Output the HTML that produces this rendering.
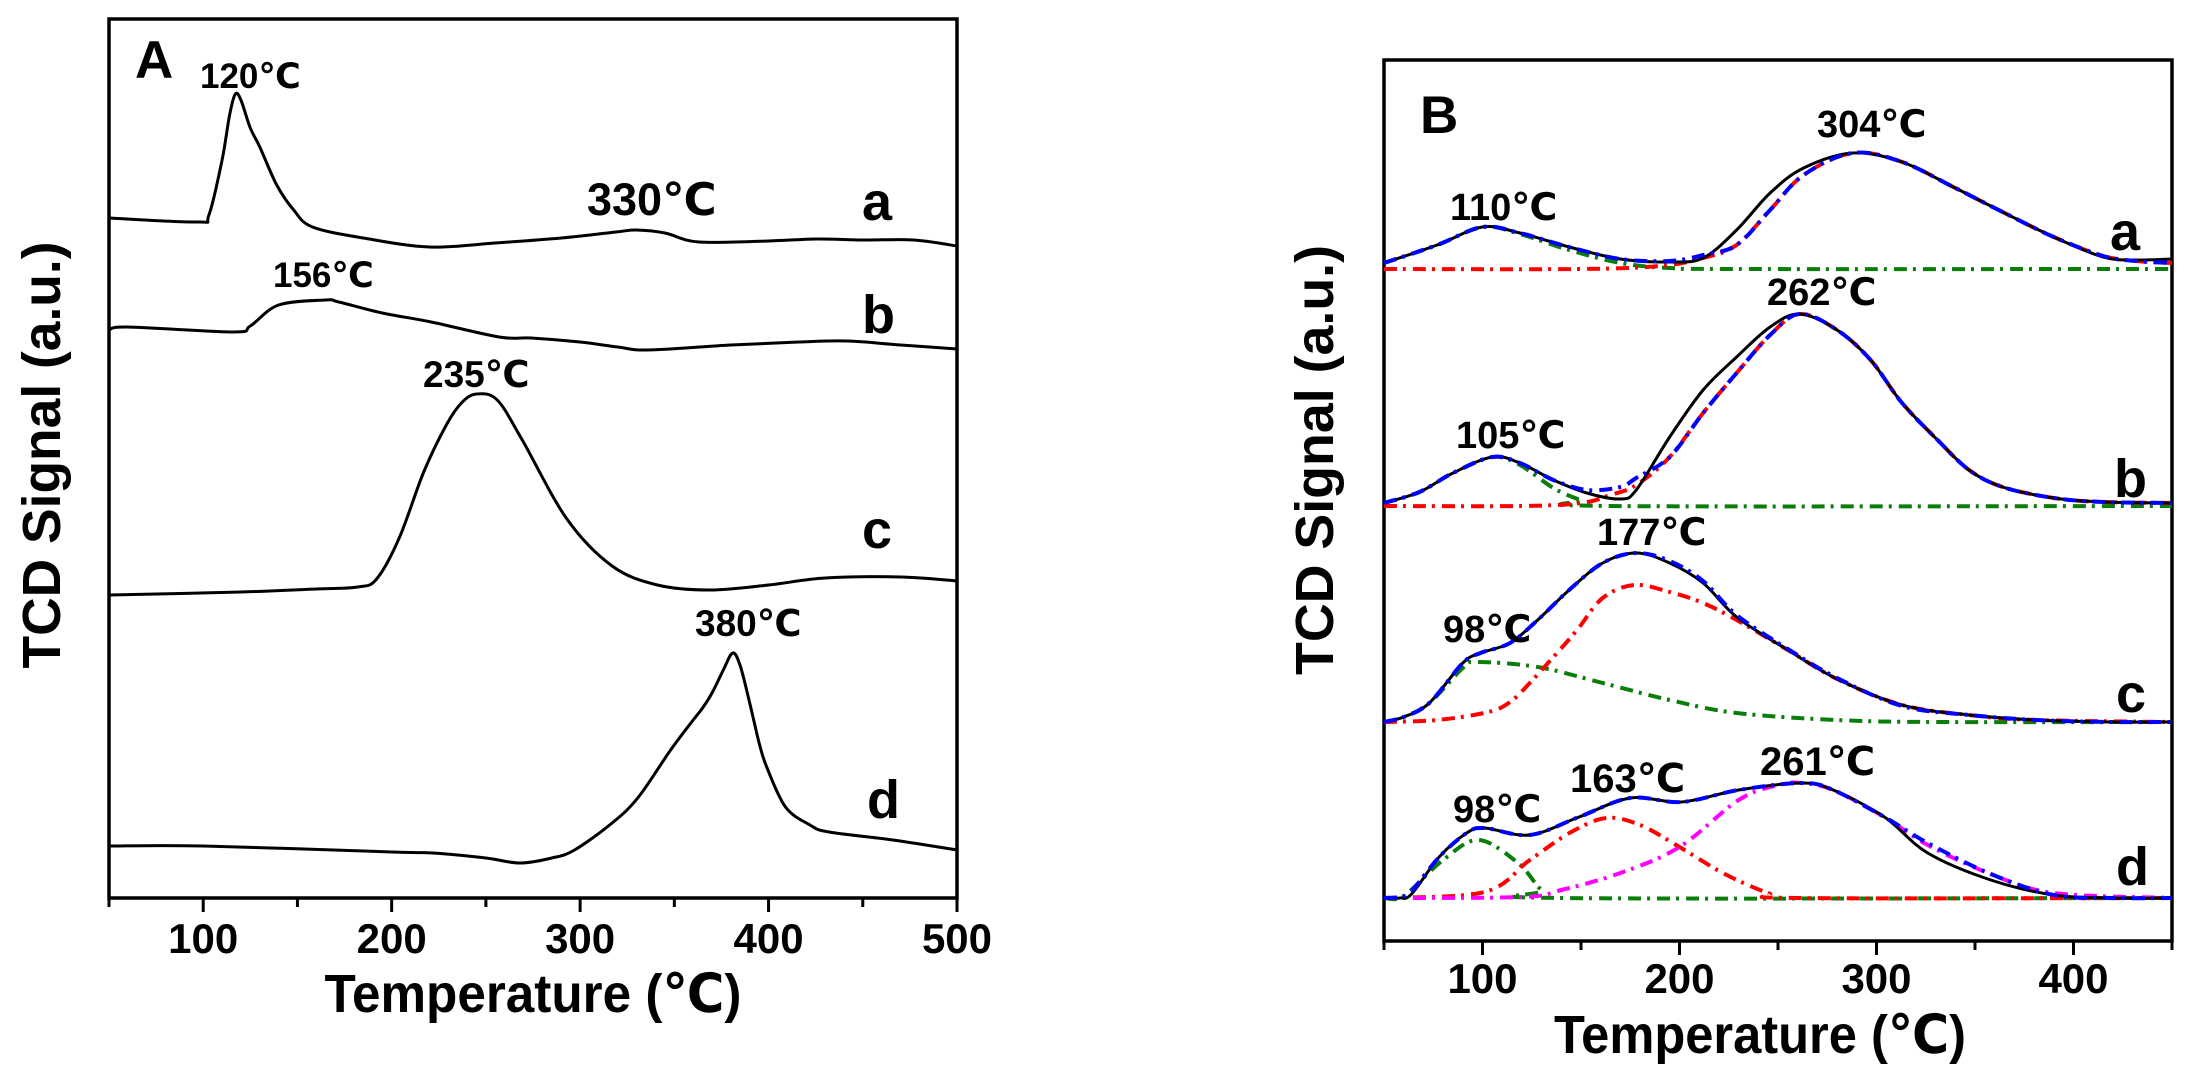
<!DOCTYPE html>
<html><head><meta charset="utf-8">
<style>
html,body{margin:0;padding:0;background:#fff;}
svg{display:block;}
text{font-family:"Liberation Sans","DejaVu Sans",sans-serif;font-weight:bold;fill:#000;}
</style></head>
<body>
<svg id="chart" xmlns="http://www.w3.org/2000/svg" width="2192" height="1080" viewBox="0 0 2192 1080">
  <g id="panelA">
    <rect x="109" y="19" width="848" height="879" fill="none" stroke="#000" stroke-width="3.5"/>
    <text x="135" y="78" font-size="53">A</text>
    <text transform="translate(60,455) rotate(-90)" text-anchor="middle" font-size="54" textLength="427" lengthAdjust="spacingAndGlyphs">TCD Signal (a.u.)</text>
    <text x="533" y="1012" text-anchor="middle" font-size="54" textLength="417" lengthAdjust="spacingAndGlyphs">Temperature (℃)</text>
    <text x="200" y="88" font-size="35">120℃</text>
    <text x="587" y="215" font-size="45">330℃</text>
    <text x="273" y="287" font-size="35">156℃</text>
    <text x="423" y="387" font-size="37">235℃</text>
    <text x="695" y="636" font-size="37">380℃</text>
    <text x="862" y="220" font-size="54">a</text>
    <text x="862" y="333" font-size="54">b</text>
    <text x="862" y="548" font-size="54">c</text>
    <text x="867" y="818" font-size="54">d</text>
  </g>
  <g id="panelB">
    <rect x="1384" y="60" width="788" height="881" fill="none" stroke="#000" stroke-width="3.5"/>
    <text x="1420" y="133" font-size="53">B</text>
    <text transform="translate(1333,460) rotate(-90)" text-anchor="middle" font-size="54" textLength="430" lengthAdjust="spacingAndGlyphs">TCD Signal (a.u.)</text>
    <text x="1760" y="1053" text-anchor="middle" font-size="54" textLength="412" lengthAdjust="spacingAndGlyphs">Temperature (℃)</text>
    <text x="1450" y="220" font-size="38">110℃</text>
    <text x="1817" y="137" font-size="38">304℃</text>
    <text x="1767" y="305" font-size="38">262℃</text>
    <text x="1456" y="448" font-size="38">105℃</text>
    <text x="1597" y="545" font-size="38">177℃</text>
    <text x="1443" y="642" font-size="38">98℃</text>
    <text x="1453" y="822" font-size="38">98℃</text>
    <text x="1570" y="792" font-size="40">163℃</text>
    <text x="1760" y="775" font-size="40">261℃</text>
    <text x="2110" y="250" font-size="54">a</text>
    <text x="2114" y="497" font-size="54">b</text>
    <text x="2116" y="712" font-size="54">c</text>
    <text x="2116" y="885" font-size="54">d</text>
  </g>
</svg>
<script>
// ---------- Panel A data (temperature ℃, signal a.u. = px above axis baseline) ----------
const ticksA = [50,100,150,200,250,300,350,400,450,500];
const tickLabelsA = ["100","200","300","400","500"];
const tickLabelValsA = [100,200,300,400,500];
const aT = [50,97,103,110,114,117,120,125,130,139,148,158,185,220,255,290,319,330,345,363,400,425,450,477,500];
const aV = [680,676,683,738,783,804,798,770,751,713,688,671,660,651,655,660,666,668,665,656,657,659,658,658,652];
const bT = [50,60,116,125,140,165,172,195,221,257,274,300,320,336,380,416,442,470,500];
const bV = [568,571,566,572,593,598,596,585,576,561,560,556,551,548,553,556,557,553,549];
const cT = [50,120,160,182,192,204,217,229,237,245,256,269,293,317,341,369,400,430,470,500];
const cV = [303,306,309,311,319,360,426,473,495,504,498,459,379,332,313,308,313,320,321,317];
const dT = [50,100,200,222,250,268,285,297,317,331,348,360,365,370,376,381,385,390,395,399,409,422,432,466,500];
const dV = [52,52,46,45,40,35,40,48,75,101,148,178,190,205,228,245,232,195,155,131,91,73,66,58,48];

// ---------- Panel B data ----------
const ticksB = [50,100,150,200,250,300,350,400,450];
const tickLabelsB = ["100","200","300","400"];
const tickLabelValsB = [100,200,300,400];
const baT = [50,77,100,119,144,170,195,212,229,246,263,288,313,339,364,390,415,432,450];
const baBlack = [678,696,714,708,694,682,679,683,711,748,773,788,779,754,729,704,684,681,682];
const baFit   = [678,696,714,708,694,682,680,686,696,731,766,788,779,754,729,704,685,680,678];
const baG1T = [50,77,100,119,144,170,195,230,450];
const baG1V = [678,696,714,707,691,678,673,672,672];
const baG2T = [50,150,190,212,229,246,263,288,313,339,364,390,415,432,450];
const baG2V = [672,672,675,683,696,731,766,788,779,754,729,704,685,680,678];

const bbT = [50,68,85,105,119,136,153,170,178,195,212,229,246,261,280,297,313,331,347,364,390,415,450];
const bbBlack = [438,449,468,484,478,461,448,442,451,504,551,584,614,627,611,581,538,501,471,454,443,439,438];
const bbFit   = [438,449,468,484,478,461,451,454,463,484,528,568,606,627,611,581,538,501,471,454,443,439,438];
const bbG1T = [50,68,85,105,119,136,150,165,450];
const bbG1V = [438,449,468,484,476,453,441,435,435];
const bbG2T = [50,120,150,165,178,195,212,229,246,261,280,297,313,331,347,364,390,415,450];
const bbG2V = [435,435,438,446,456,484,528,568,606,627,611,581,538,501,471,454,443,439,438];

const bcT = [50,60,73,90,99,114,128,144,161,178,195,212,229,255,280,313,347,381,420,450];
const bcBlack = [219,224,238,278,288,298,321,351,378,388,378,358,324,291,262,236,226,221,219,219];
const bcFit   = [219,224,238,278,288,298,321,351,378,388,380,360,326,292,263,235,226,221,219,219];
const bcG1T = [50,60,73,90,97,128,161,195,229,280,330,450];
const bcG1V = [219,224,238,273,279,274,258,241,228,221,219,219];
const bcG2T = [50,77,103,114,124,136,148,161,177,195,212,229,255,280,313,347,381,450];
const bcG2V = [219,221,229,239,258,284,311,343,356,349,338,321,291,262,236,226,221,219];

const bdT = [50,58,64,78,92,101,124,149,175,201,230,262,278,304,326,358,390,420,450];
const bdBlack = [43,43,47,84,108,113,106,124,143,139,151,158,151,124,88,61,46,43,43];
const bdFit   = [43,44,50,84,108,113,106,124,143,139,151,158,151,124,98,67,46,43,43];
const bdG1T = [50,60,80,98,118,130,140,450];
const bdG1V = [43,45,81,101,78,51,43,43];
const bdG2T = [50,101,124,145,163,180,200,222,245,260,450];
const bdG2V = [43,49,81,109,123,116,94,68,48,43,43];
const bdG3T = [50,120,140,170,200,230,250,262,278,304,326,358,390,450];
const bdG3V = [43,44,51,68,94,141,156,158,151,124,96,67,48,43];

// ---------- axis functions ----------
const NS = "http://www.w3.org/2000/svg";
const gA = document.getElementById('panelA');
const gB = document.getElementById('panelB');
const A = {x0:109, x1:957, t0:50, t1:500, yBase:898};
const B = {x0:1384, x1:2172, t0:50, t1:450, yBase:941};
function xA(t){return A.x0 + (t-A.t0)*(A.x1-A.x0)/(A.t1-A.t0);}
function yA(v){return A.yBase - v;}
function xB(t){return B.x0 + (t-B.t0)*(B.x1-B.x0)/(B.t1-B.t0);}
function yB(v){return B.yBase - v;}

function smoothPath(pts){
  let d = "M" + pts[0][0].toFixed(1) + "," + pts[0][1].toFixed(1);
  for(let i=0;i<pts.length-1;i++){
    const p0 = pts[Math.max(0,i-1)], p1 = pts[i], p2 = pts[i+1], p3 = pts[Math.min(pts.length-1,i+2)];
    const c1x = p1[0] + (p2[0]-p0[0])/6, c1y = p1[1] + (p2[1]-p0[1])/6;
    const c2x = p2[0] - (p3[0]-p1[0])/6, c2y = p2[1] - (p3[1]-p1[1])/6;
    d += " C" + c1x.toFixed(1)+","+c1y.toFixed(1)+" "+c2x.toFixed(1)+","+c2y.toFixed(1)+" "+p2[0].toFixed(1)+","+p2[1].toFixed(1);
  }
  return d;
}
function drawCurve(g, xs, ys, xf, yf, color, width, dash, name){
  const pts = xs.map((t,i)=>[xf(t), yf(ys[i])]);
  const p = document.createElementNS(NS,'path');
  p.setAttribute('d', smoothPath(pts));
  p.setAttribute('fill','none');
  p.setAttribute('stroke',color);
  p.setAttribute('stroke-width',width);
  p.setAttribute('stroke-linejoin','round');
  if(dash) p.setAttribute('stroke-dasharray',dash);
  
  
  g.appendChild(p);
}
function drawTicks(g, ticks, labels, labelVals, xf, yAxis, labelY, prefix){
  ticks.forEach(t=>{
    const major = labelVals.indexOf(t) >= 0 || (t===500);
    const l = document.createElementNS(NS,'line');
    l.setAttribute('x1', xf(t)); l.setAttribute('x2', xf(t));
    l.setAttribute('y1', yAxis); l.setAttribute('y2', yAxis + (major?14:9));
    l.setAttribute('stroke','#000'); l.setAttribute('stroke-width','3');
    
    
    g.appendChild(l);
  });
  labels.forEach((s,i)=>{
    const tx = document.createElementNS(NS,'text');
    tx.setAttribute('x', xf(labelVals[i]));
    tx.setAttribute('y', labelY);
    tx.setAttribute('text-anchor','middle');
    tx.setAttribute('font-size','42');
    tx.textContent = s;
    
    
    g.appendChild(tx);
  });
}

const DASH = "13 6 3 7";
// Panel A
drawTicks(gA, ticksA, tickLabelsA, tickLabelValsA, xA, A.yBase, 953, 'x-axis-a');
drawCurve(gA, aT, aV, xA, yA, '#000', 3, null, 'curve-a');
drawCurve(gA, bT, bV, xA, yA, '#000', 3, null, 'curve-b');
drawCurve(gA, cT, cV, xA, yA, '#000', 3, null, 'curve-c');
drawCurve(gA, dT, dV, xA, yA, '#000', 3, null, 'curve-d');

// Panel B
drawTicks(gB, ticksB, tickLabelsB, tickLabelValsB, xB, B.yBase, 993, 'x-axis-b');
const GREEN='#0a7d0a', RED='#ff0000', BLUE='#0000ff', MAG='#ff00ff';
drawCurve(gB, baG1T, baG1V, xB, yB, GREEN, 4, DASH, 'ba-component-1');
drawCurve(gB, baG2T, baG2V, xB, yB, RED, 4, DASH, 'ba-component-2');
drawCurve(gB, baT, baBlack, xB, yB, '#000', 3, null, 'ba-measured');
drawCurve(gB, baT, baFit, xB, yB, BLUE, 4, DASH, 'ba-fit');

drawCurve(gB, bbG1T, bbG1V, xB, yB, GREEN, 4, DASH, 'bb-component-1');
drawCurve(gB, bbG2T, bbG2V, xB, yB, RED, 4, DASH, 'bb-component-2');
drawCurve(gB, bbT, bbBlack, xB, yB, '#000', 3, null, 'bb-measured');
drawCurve(gB, bbT, bbFit, xB, yB, BLUE, 4, DASH, 'bb-fit');

drawCurve(gB, bcG1T, bcG1V, xB, yB, GREEN, 4, DASH, 'bc-component-1');
drawCurve(gB, bcG2T, bcG2V, xB, yB, RED, 4, DASH, 'bc-component-2');
drawCurve(gB, bcT, bcBlack, xB, yB, '#000', 3, null, 'bc-measured');
drawCurve(gB, bcT, bcFit, xB, yB, BLUE, 4, DASH, 'bc-fit');

drawCurve(gB, bdG1T, bdG1V, xB, yB, GREEN, 4, DASH, 'bd-component-1');
drawCurve(gB, bdG2T, bdG2V, xB, yB, RED, 4, DASH, 'bd-component-2');
drawCurve(gB, bdG3T, bdG3V, xB, yB, MAG, 4, DASH, 'bd-component-3');
drawCurve(gB, bdT, bdBlack, xB, yB, '#000', 3, null, 'bd-measured');
drawCurve(gB, bdT, bdFit, xB, yB, BLUE, 4, DASH, 'bd-fit');
</script>
</body></html>
